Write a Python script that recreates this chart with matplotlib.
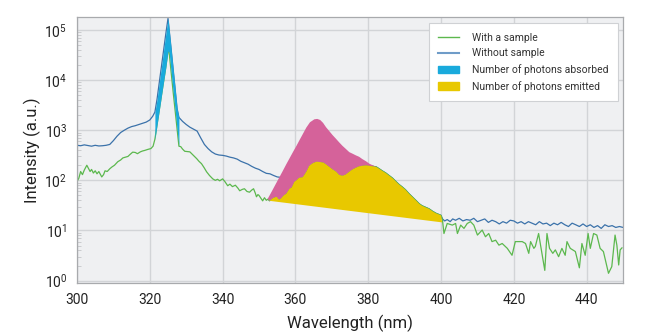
import numpy as np
import matplotlib
matplotlib.use("Agg")
import matplotlib.pyplot as plt
from matplotlib.patches import Patch
from matplotlib.lines import Line2D
from matplotlib.ticker import LogLocator, NullFormatter

plt.rcParams["font.family"] = ["Roboto", "DejaVu Sans"]
plt.rcParams["mathtext.default"] = "regular"

# ---- data (wavelength in nm, intensity in a.u.)
# without sample, 300 -> 321
blue_left_wl = [300, 301, 302, 303, 304, 305, 306, 307, 308, 309, 310, 311, 312,
                313, 314, 315, 316, 317, 318, 319, 320, 320.8]
blue_left = [500, 490, 510, 495, 480, 500, 485, 490, 500, 520, 620, 760, 900,
             1000, 1100, 1180, 1230, 1300, 1380, 1450, 1600, 1900]

# excitation peak, shared grid for both curves
peak_wl = [321.4, 322.0, 322.6, 323.2, 323.8, 324.4, 325.0, 325.3, 325.8,
           326.4, 327.0, 327.5, 328.0]
peak_without = [2300, 4200, 8900, 18600, 40000, 84000, 170000, 105000, 46000,
                17000, 6300, 2700, 1800]
peak_with = [660, 1300, 2500, 4900, 9500, 18000, 38000, 36000, 15500,
             5900, 2300, 1000, 480]

# without sample, 328 -> 382 (part of it hidden under the emission area)
blue_mid_wl = [329, 330, 331, 332, 333, 334, 335, 336, 337, 338, 339, 340, 341,
               342, 343, 344, 345, 346, 347, 348, 349, 350, 351, 352, 353, 354,
               355, 357, 361, 365, 369, 373, 377, 380]
blue_mid = [1500, 1300, 1150, 1050, 960, 700, 520, 430, 370, 335, 320, 315, 305,
            290, 280, 265, 240, 225, 210, 190, 175, 165, 150, 138, 135, 125,
            117, 112, 105, 110, 130, 150, 190, 200]

# with sample, 300 -> 321
green_left_wl = [300, 300.5, 301, 301.5, 302, 302.7, 303.2, 303.6, 304, 304.5,
                 305, 305.5, 306, 306.8, 307.3, 307.7, 308.3, 309, 309.6, 310.3,
                 311.2, 312, 312.6, 313.3, 314, 314.6, 315.3, 316, 316.6, 317.4,
                 318, 318.6, 319.5, 320.3, 320.9]
green_left = [95, 110, 150, 130, 160, 200, 170, 150, 165, 140,
              155, 135, 150, 117, 130, 155, 150, 170, 185, 200,
              235, 255, 280, 290, 300, 330, 365, 360, 340, 370,
              385, 395, 415, 430, 480]

# with sample, 328 -> 352.4
green_mid_wl = [328.5, 329, 329.6, 330.3, 331, 331.7, 332.3, 332.9, 333.5, 334.2,
                334.9, 335.6, 336.4, 337.3, 338, 338.6, 339.2, 340, 340.6, 341.4,
                342, 342.7, 343.5, 344.2, 344.7, 345.4, 346, 346.7, 347.4, 348,
                348.5, 349, 349.3, 349.7, 350, 350.5, 351, 351.5, 352, 352.4]
green_mid = [470, 420, 380, 375, 370, 330, 300, 270, 240, 215,
             180, 148, 125, 107, 100, 105, 98, 107, 95, 78,
             84, 75, 80, 70, 62, 66, 68, 60, 58, 64,
             68, 55, 47, 52, 50, 44, 39, 45, 40, 42]

# with sample over the emission band (top of the yellow area)
emit_wl = [352.9, 353.8, 354.8, 355.5, 356, 356.8, 357.5, 358.4, 359, 359.7,
           360.3, 361, 362, 362.5, 363, 363.8, 364.8, 365.8, 366.7, 367.7,
           368.5, 369.3, 370.2, 371.2, 372, 372.9, 373.8, 374.8, 375.7, 376.6,
           377.5, 378.4, 379.4, 380.3, 381.2, 382.2]
emit_with = [39, 44, 47, 41, 43, 50, 54, 68, 72, 93,
             100, 112, 115, 130, 148, 195, 220, 235, 232, 225,
             205, 185, 165, 148, 128, 123, 130, 148, 165, 178,
             190, 195, 198, 195, 190, 185]

# both curves coincide here
tail_wl = [383, 383.8, 384.8, 385.8, 386.7, 387.7, 388.5, 389.3, 390.2, 391.2,
           392.2, 393.2, 394, 394.8, 395.7, 396.7, 397.7, 398.6, 399.3, 400.0]
tail_int = [170, 155, 140, 123, 110, 93, 82, 74, 65, 54,
            46, 39, 34, 31, 29, 27, 24, 22, 21, 20]

# upper envelope of the pink area
pink_wl = [352.4, 353.5, 354.5, 355.5, 356.4, 357.5, 358.5, 359.4, 360.3, 361.2,
           362, 363, 364, 365.2, 366, 366.8, 367.6, 368.4, 369.3, 370.2,
           371.1, 372, 372.9, 373.9, 374.8, 375.7, 376.6, 377.5, 378.4, 379.4,
           380.3, 381.2, 382.2]
pink_top = [43, 60, 82, 112, 148, 210, 285, 375, 490, 650,
            830, 1130, 1440, 1650, 1680, 1600, 1400, 1150, 960, 800,
            680, 575, 490, 420, 365, 340, 315, 295, 265, 240,
            215, 200, 185]

# straight baseline under the emitted area
base_wl = [352.9, 400.3]
base_int = [39, 14.5]

# beyond 400 nm
blue_right_wl = [400.4, 401, 401.7, 402.5, 403.2, 404, 405, 406, 407, 408, 409,
                 410, 411, 412, 413, 414, 415, 416, 417, 418, 419, 420, 421, 422,
                 423, 424, 425, 426, 427, 428, 429, 430, 431, 432, 433, 434, 435,
                 436, 437, 438, 439, 440, 441, 442, 443, 444, 445, 446, 447, 448,
                 449, 450]
blue_right = [17, 15.5, 16.5, 15, 17, 16, 17.5, 15.5, 16.5, 16, 17.5,
              15, 16, 17, 14.5, 16, 15, 13.5, 15, 14, 16, 15.5, 14, 15,
              13.5, 15, 14, 13, 15, 13.5, 14, 12.5, 14, 13, 14.5, 13, 12,
              14, 13, 12, 13.5, 12, 13, 11.5, 12.5, 11, 13, 12, 12.5, 11.5,
              12, 11.5]
green_right_wl = [400.4, 400.8, 401.7, 403.1, 404, 404.5, 405.4, 406.3, 407.2,
                  408.1, 409, 410, 411.3, 412.2, 413.1, 414, 415, 415.9, 416.8,
                  418.2, 419.5, 420.4, 422.3, 423.2, 424.1, 424.6, 425.5, 425.9,
                  426.8, 427.8, 428.5, 429.1, 429.8, 430.7, 431.4, 432.3, 433.2,
                  434.1, 434.6, 435.5, 436.9, 438, 438.7, 439.6, 440.4, 441,
                  441.9, 442.8, 443.7, 444.6, 446, 446.9, 447.8, 448.3, 448.8,
                  449.2, 449.7]
green_right = [16, 8.7, 13.8, 12.8, 13.8, 8.7, 12.8, 11, 13.8,
               15, 12.8, 8.1, 10.2, 7.5, 8.7, 6, 6.4, 5.1, 5.5,
               4.4, 3.2, 6, 6, 5.5, 3.5, 6, 4.4, 4.8,
               8.7, 3.2, 1.6, 8.7, 4.4, 3.5, 4.1, 3.0, 4.4,
               3.2, 6, 4.4, 3.8, 1.8, 5.5, 3.2, 8.7, 4.4,
               8.7, 8.1, 4.4, 3.8, 1.4, 1.9, 8.1, 5.1, 2.05,
               4.1, 4.5]

legend_labels = ["With a sample", "Without sample",
                 "Number of photons absorbed", "Number of photons emitted"]

C_GREEN = "#5cb84e"
C_BLUE = "#3b72aa"
C_CYAN = "#19aadc"
C_PINK = "#d5629a"
C_YELLOW = "#e8c800"

# ---- assemble the two curves
wl_without = blue_left_wl + peak_wl + blue_mid_wl + emit_wl[-1:] + tail_wl + blue_right_wl
int_without = blue_left + peak_without + blue_mid + emit_with[-1:] + tail_int + blue_right
wl_with = green_left_wl + peak_wl + green_mid_wl + emit_wl + tail_wl + green_right_wl
int_with = green_left + peak_with + green_mid + emit_with + tail_int + green_right

fig = plt.figure(figsize=(6.47, 3.36), dpi=100)
ax = fig.add_axes([0.119, 0.158, 0.844, 0.791])
ax.set_facecolor("#eff0f2")

ax.plot(wl_without, int_without, color=C_BLUE, lw=0.9, zorder=2)
ax.plot(wl_with, int_with, color=C_GREEN, lw=0.9, zorder=2)

# absorbed photons: between the two curves around the excitation peak
ax.fill_between(peak_wl, peak_with, peak_without, color=C_CYAN, lw=0, zorder=3)

# pink area: pink envelope down to the sample curve
ax.fill(pink_wl + emit_wl[::-1], pink_top + emit_with[::-1],
        color=C_PINK, lw=0, zorder=3)
# emitted photons: sample curve down to the straight baseline
ax.fill(emit_wl + tail_wl + base_wl[::-1], emit_with + tail_int + base_int[::-1],
        color=C_YELLOW, lw=0, zorder=4)

ax.set_yscale("log")
ax.set_xlim(300, 450)
ax.set_ylim(0.9, 1.8e5)
ax.set_xticks(np.arange(300, 441, 20))
ax.yaxis.set_major_locator(LogLocator(base=10, numticks=10))
ax.yaxis.set_minor_locator(LogLocator(base=10, subs=np.arange(2, 10), numticks=10))
ax.yaxis.set_minor_formatter(NullFormatter())

ax.grid(True, which="major", color="#d2d4d7", lw=1.0, zorder=0)
ax.set_axisbelow(True)
ax.tick_params(which="major", length=0, labelsize=10, labelcolor="#222222", pad=7)
ax.tick_params(which="minor", axis="y", direction="in", length=3, width=0.6,
               color="#c4c6c9")
for s in ax.spines.values():
    s.set_color("#a8aaad")
    s.set_linewidth(0.9)

ax.set_xlabel("Wavelength (nm)", fontsize=12, color="#222222", labelpad=6)
ax.set_ylabel("Intensity (a.u.)", fontsize=12, color="#222222", labelpad=2)

handles = [Line2D([], [], color=C_GREEN, lw=1.0),
           Line2D([], [], color="#6f9cc8", lw=1.5),
           Patch(color=C_CYAN), Patch(color=C_YELLOW)]
leg = ax.legend(handles, legend_labels, loc="upper right", fontsize=7.5,
                frameon=True, fancybox=False, framealpha=1, edgecolor="#cfd1d4",
                borderpad=0.9, labelspacing=0.55, handlelength=2.0,
                handletextpad=1.3, borderaxespad=0,
                bbox_to_anchor=(0.991, 0.977))
leg.get_frame().set_linewidth(0.8)
for t in leg.get_texts():
    t.set_color("#333333")

fig.savefig("out.png", dpi=100, facecolor="white")
